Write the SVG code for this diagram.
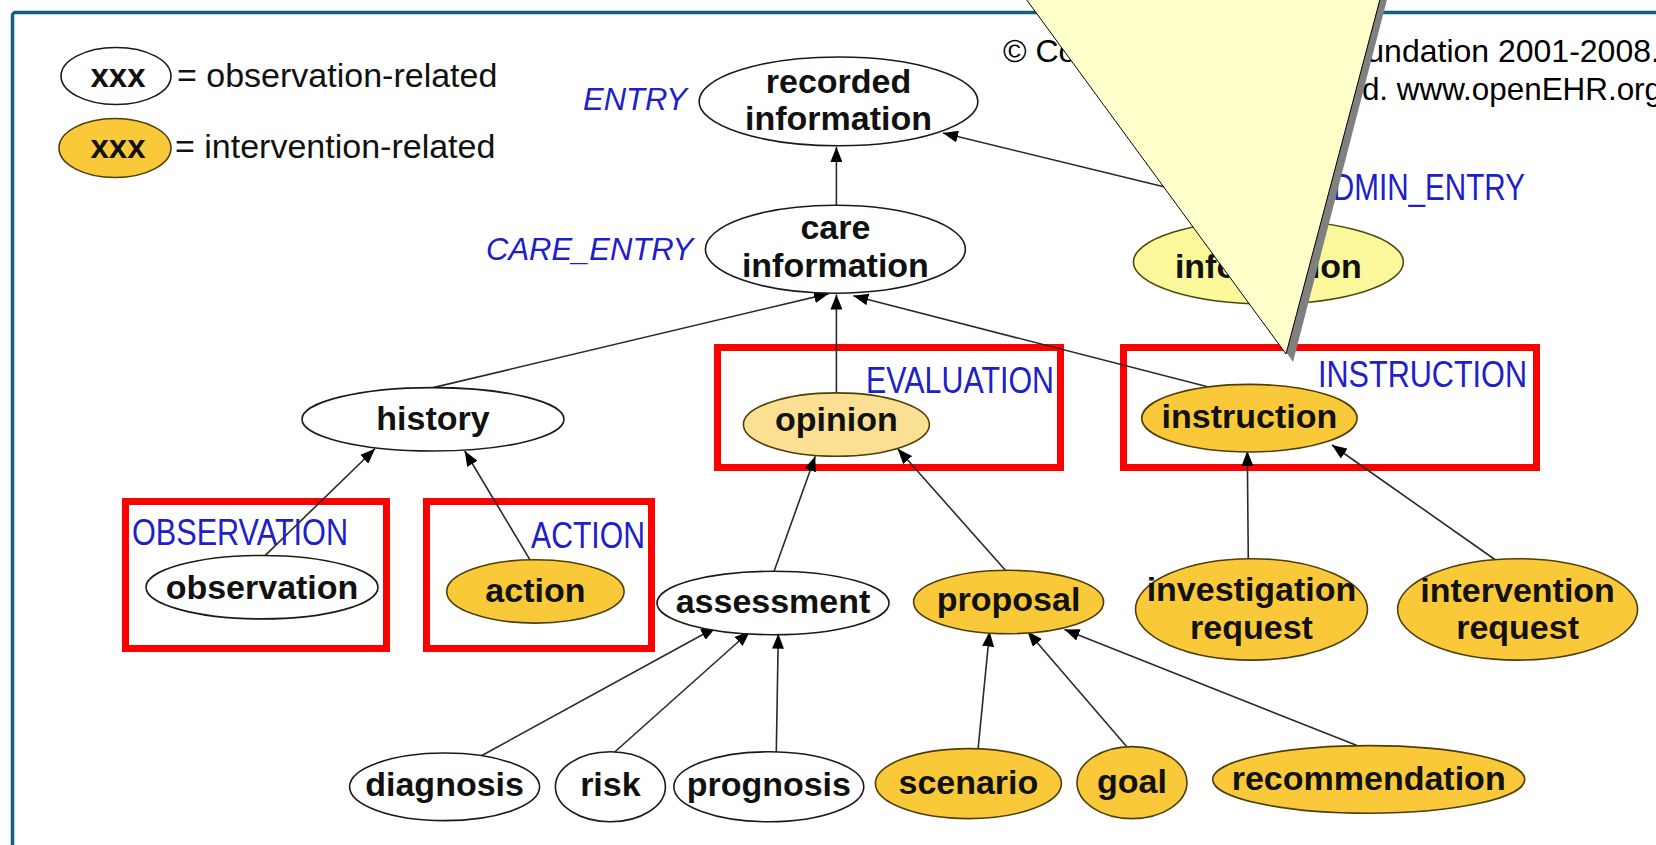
<svg xmlns="http://www.w3.org/2000/svg" width="1656" height="845" viewBox="0 0 1656 845">
  <defs>
    <marker id="arrow" markerUnits="userSpaceOnUse" markerWidth="16" markerHeight="12" refX="15" refY="6" orient="auto">
      <path d="M0,0 L15,6 L0,12 z" fill="#000"/>
    </marker>
    <style>
      .frame { fill: none; stroke: #14607e; stroke-width: 3.5; }
      .box { fill: none; stroke: #ff0000; stroke-width: 7; }
      .edge { stroke: #2a2a2a; stroke-width: 1.6; fill: none; marker-end: url(#arrow); }
      .obs { fill: #ffffff; stroke: #1a1a1a; stroke-width: 1.6; }
      .int { fill: #f9c93a; stroke: #4e3f08; stroke-width: 1.6; }
      .opn { fill: #fbdf93; stroke: #4e3f08; stroke-width: 1.6; }
      .adm { fill: #fbf89b; stroke: #4e4a10; stroke-width: 1.6; }
      .lbl { font-family: "Liberation Sans", Arial, sans-serif; font-weight: bold; font-size: 34px; fill: #111; text-anchor: middle; }
      .cls { font-family: "Liberation Sans", Arial, sans-serif; font-size: 36px; fill: #2020c8; }
      .cli { font-family: "Liberation Sans", Arial, sans-serif; font-size: 31px; font-style: italic; fill: #2020c8; }
      .leg { font-family: "Liberation Sans", Arial, sans-serif; font-size: 34px; fill: #111; }
      .copy { font-family: "Liberation Sans", Arial, sans-serif; font-size: 31.4px; fill: #000; }
    </style>
  </defs>

  <rect width="1656" height="845" fill="#ffffff"/>
  <rect class="frame" x="12.5" y="12.5" width="1700" height="900" rx="3"/>

  <!-- class boxes -->
  <g id="boxes">
    <rect class="box" x="125.5" y="501.5" width="261" height="147"/>
    <rect class="box" x="426.5" y="501.5" width="225" height="147"/>
    <rect class="box" x="717.5" y="347.5" width="343" height="120"/>
    <rect class="box" x="1123.5" y="347.5" width="413" height="120"/>
  </g>

  <!-- inheritance connectors -->
  <g id="connectors">
    <line class="edge" x1="836.4" y1="206" x2="836.4" y2="147"/>
    <line class="edge" x1="1300" y1="220" x2="943" y2="133"/>
    <line class="edge" x1="433" y1="387.6" x2="829" y2="293.6"/>
    <line class="edge" x1="836.4" y1="393" x2="836.4" y2="294.6"/>
    <line class="edge" x1="1214.5" y1="388.6" x2="853.3" y2="295.7"/>
    <line class="edge" x1="264" y1="556.6" x2="375" y2="448.8"/>
    <line class="edge" x1="531.2" y1="561.8" x2="464.7" y2="451"/>
    <line class="edge" x1="774" y1="571.4" x2="815.3" y2="456.2"/>
    <line class="edge" x1="1005.4" y1="570.3" x2="897.7" y2="448.8"/>
    <line class="edge" x1="1248.3" y1="560.8" x2="1247.3" y2="451"/>
    <line class="edge" x1="1497" y1="561" x2="1332" y2="445"/>
    <line class="edge" x1="480.5" y1="756.2" x2="716" y2="627.3"/>
    <line class="edge" x1="614.7" y1="752" x2="749.8" y2="631.5"/>
    <line class="edge" x1="776.2" y1="758.3" x2="778.3" y2="633.7"/>
    <line class="edge" x1="978" y1="749.8" x2="989.6" y2="631.5"/>
    <line class="edge" x1="1126.8" y1="746.7" x2="1027.6" y2="631.5"/>
    <line class="edge" x1="1357" y1="745.6" x2="1064.5" y2="629.4"/>
  </g>

  <!-- nodes -->
  <g id="recorded-information">
    <ellipse class="obs" cx="838.5" cy="101.4" rx="139.4" ry="44.4"/>
    <text class="lbl" x="838.5" y="93">recorded</text>
    <text class="lbl" x="838.5" y="130">information</text>
  </g>
  <g id="care-information">
    <ellipse class="obs" cx="835.4" cy="249.2" rx="130" ry="44"/>
    <text class="lbl" x="835.4" y="238.7">care</text>
    <text class="lbl" x="835.4" y="276.7">information</text>
  </g>
  <g id="admin-information">
    <ellipse class="adm" cx="1268.4" cy="262" rx="135" ry="42"/>
    <text class="lbl" x="1268.4" y="277.7">information</text>
  </g>
  <g id="history">
    <ellipse class="obs" cx="433" cy="419.3" rx="131" ry="31.7"/>
    <text class="lbl" x="433" y="430">history</text>
  </g>
  <g id="opinion">
    <ellipse class="opn" cx="836.4" cy="424.6" rx="93" ry="31.7"/>
    <text class="lbl" x="836.4" y="431">opinion</text>
  </g>
  <g id="instruction">
    <ellipse class="int" cx="1249.4" cy="418.2" rx="107.7" ry="33.8"/>
    <text class="lbl" x="1249.4" y="427.7">instruction</text>
  </g>
  <g id="observation">
    <ellipse class="obs" cx="262" cy="587.2" rx="116" ry="31.7"/>
    <text class="lbl" x="262" y="598.8">observation</text>
  </g>
  <g id="action">
    <ellipse class="int" cx="535.4" cy="591.4" rx="88.7" ry="31.7"/>
    <text class="lbl" x="535.4" y="602">action</text>
  </g>
  <g id="assessment">
    <ellipse class="obs" cx="773" cy="603" rx="116" ry="31.7"/>
    <text class="lbl" x="773" y="612.5">assessment</text>
  </g>
  <g id="proposal">
    <ellipse class="int" cx="1008.6" cy="602" rx="95" ry="31.7"/>
    <text class="lbl" x="1008.6" y="611">proposal</text>
  </g>
  <g id="investigation-request">
    <ellipse class="int" cx="1251.5" cy="609.4" rx="116" ry="50.7"/>
    <text class="lbl" x="1251.5" y="601">investigation</text>
    <text class="lbl" x="1251.5" y="639">request</text>
  </g>
  <g id="intervention-request">
    <ellipse class="int" cx="1517.6" cy="609.4" rx="120" ry="50.7"/>
    <text class="lbl" x="1517.6" y="602">intervention</text>
    <text class="lbl" x="1517.6" y="639">request</text>
  </g>
  <g id="diagnosis">
    <ellipse class="obs" cx="444.6" cy="786.8" rx="95" ry="33.8"/>
    <text class="lbl" x="444.6" y="796">diagnosis</text>
  </g>
  <g id="risk">
    <ellipse class="obs" cx="610.4" cy="786.8" rx="55" ry="35"/>
    <text class="lbl" x="610.4" y="796">risk</text>
  </g>
  <g id="prognosis">
    <ellipse class="obs" cx="768.8" cy="786.8" rx="95" ry="35"/>
    <text class="lbl" x="768.8" y="796">prognosis</text>
  </g>
  <g id="scenario">
    <ellipse class="int" cx="968.4" cy="783.6" rx="93" ry="35"/>
    <text class="lbl" x="968.4" y="794">scenario</text>
  </g>
  <g id="goal">
    <ellipse class="int" cx="1132" cy="782.6" rx="55" ry="36"/>
    <text class="lbl" x="1132" y="793">goal</text>
  </g>
  <g id="recommendation">
    <ellipse class="int" cx="1368.7" cy="779.4" rx="156" ry="33.8"/>
    <text class="lbl" x="1368.7" y="790">recommendation</text>
  </g>

  <!-- class names -->
  <g id="class-names">
    <text class="cli" x="583" y="110">ENTRY</text>
    <text class="cli" x="486" y="260">CARE_ENTRY</text>
    <text class="cls" x="1313" y="200" textLength="212" lengthAdjust="spacingAndGlyphs">ADMIN_ENTRY</text>
    <text class="cls" x="866" y="393" textLength="188" lengthAdjust="spacingAndGlyphs">EVALUATION</text>
    <text class="cls" x="1318" y="386.5" textLength="209" lengthAdjust="spacingAndGlyphs">INSTRUCTION</text>
    <text class="cls" x="132" y="545" textLength="216" lengthAdjust="spacingAndGlyphs">OBSERVATION</text>
    <text class="cls" x="531" y="548" textLength="114" lengthAdjust="spacingAndGlyphs">ACTION</text>
  </g>

  <!-- legend -->
  <g id="legend">
    <ellipse class="obs" cx="116" cy="76" rx="55" ry="28.5"/>
    <text class="lbl" x="118" y="86.6" style="font-size:33px">xxx</text>
    <text class="leg" x="177" y="86.6">= observation-related</text>
    <ellipse class="int" cx="115" cy="148" rx="56" ry="29.5"/>
    <text class="lbl" x="118" y="158" style="font-size:33px">xxx</text>
    <text class="leg" x="175" y="158">= intervention-related</text>
  </g>

  <!-- copyright -->
  <g id="copyright">
    <text class="copy" x="1003" y="62" style="font-size:32px">© Copyright openEHR Foundation 2001-2008.</text>
    <text class="copy" x="1662" y="100" text-anchor="end">All rights reserved. www.openEHR.org</text>
  </g>

  <!-- callout pointer -->
  <g id="callout">
    <polygon points="1034,-12 1390,-12 1293,362" fill="#808080"/>
    <polygon points="1018,-12 1383,-12 1286,354" fill="#ffffcc" stroke="#000" stroke-width="1"/>
  </g>
</svg>
